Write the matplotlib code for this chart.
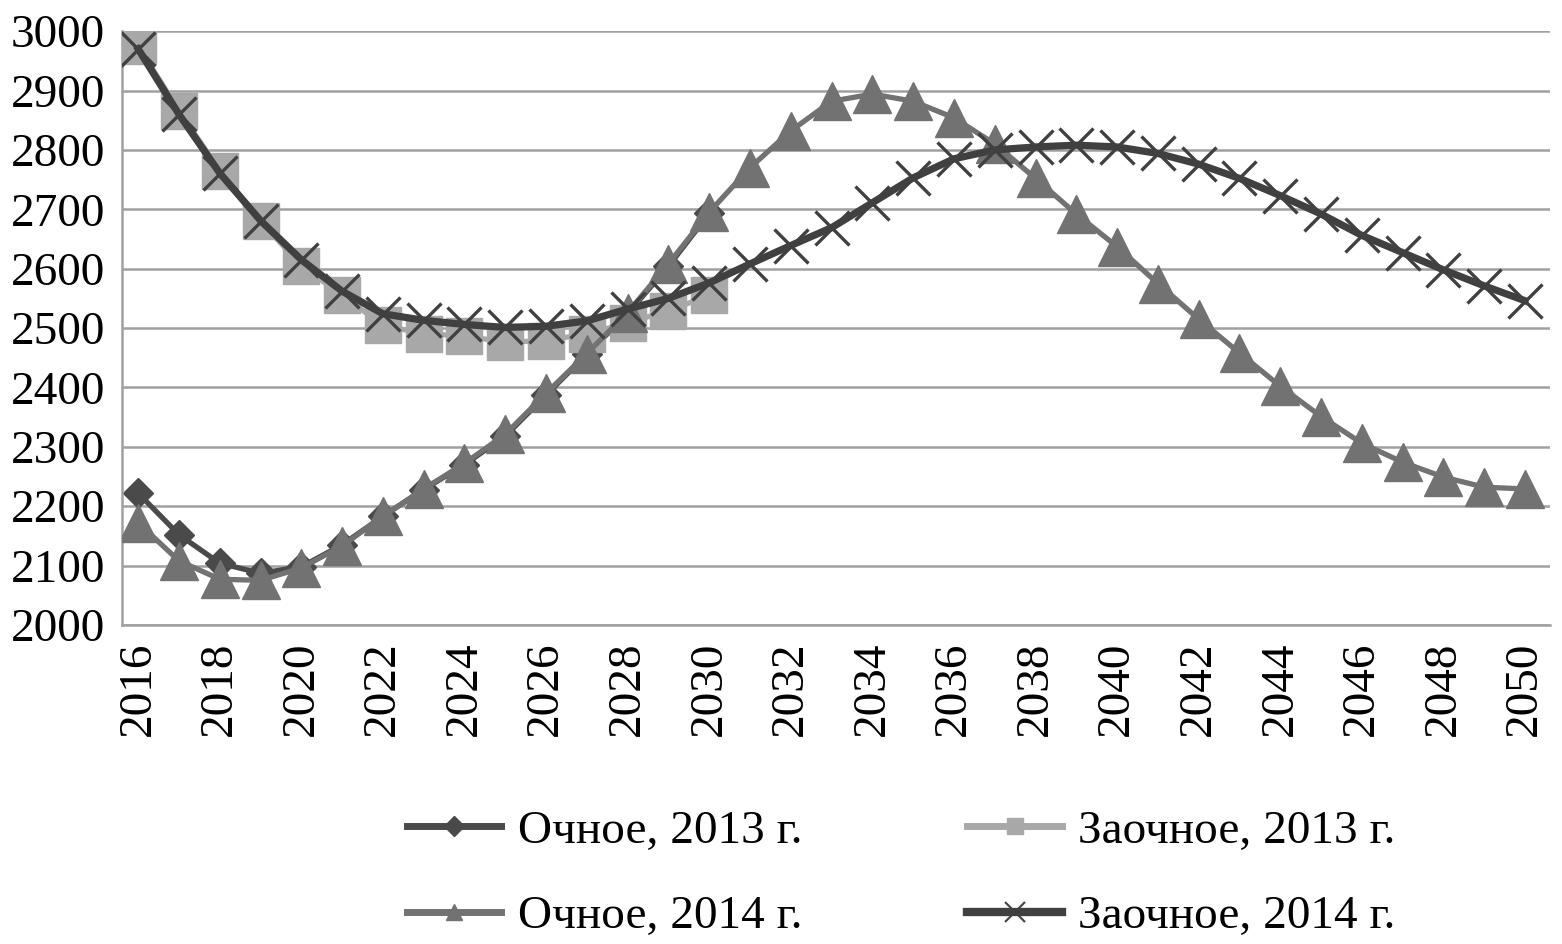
import matplotlib
matplotlib.use("Agg")
import matplotlib.pyplot as plt
from matplotlib.lines import Line2D

plt.rcParams['font.family'] = ['Liberation Serif', 'DejaVu Serif']

years = list(range(2016, 2051))
years_2013 = list(range(2016, 2031))

ochnoe_2013 = [2222, 2152, 2104, 2087, 2098, 2135, 2183, 2228, 2270,
               2318, 2387, 2456, 2524, 2604, 2693]
zaochnoe_2013 = [2975, 2866, 2765, 2680, 2605, 2555, 2505, 2490, 2487,
                 2476, 2479, 2490, 2509, 2529, 2555]
ochnoe_2014 = [2172, 2108, 2077, 2075, 2096, 2133, 2183, 2229, 2272,
               2321, 2390, 2457, 2526, 2608, 2695, 2770, 2832, 2882,
               2894, 2882, 2854, 2810, 2752, 2692, 2637, 2575, 2515,
               2458, 2402, 2351, 2306, 2274, 2249, 2232, 2229]
zaochnoe_2014 = [2970, 2860, 2761, 2681, 2615, 2562, 2524, 2513, 2506,
                 2501, 2503, 2512, 2532, 2550, 2576, 2608, 2639, 2669,
                 2711, 2753, 2785, 2800, 2805, 2808, 2805, 2794, 2776,
                 2752, 2723, 2692, 2656, 2627, 2598, 2571, 2546]

labels = ["Очное, 2013 г.", "Заочное, 2013 г.", "Очное, 2014 г.", "Заочное, 2014 г."]
c_o13 = "#4a4a4a"
c_z13 = "#a8a8a8"
c_o14 = "#727272"
c_z14 = "#404040"

fig = plt.figure(figsize=(15.62, 9.44), dpi=100)
ax = fig.add_axes([0.078, 0.338, 0.914, 0.629])

ax.plot(years_2013, ochnoe_2013, color=c_o13, lw=3.8, marker="D", ms=15,
        zorder=2)
ax.plot(years_2013, zaochnoe_2013, color=c_z13, lw=3.8, marker="s", ms=26,
        zorder=3)
ax.plot(years, ochnoe_2014, color=c_o14, lw=3.8, marker="^", ms=27,
        zorder=4)
ax.plot(years, zaochnoe_2014, color=c_z14, lw=5.2, marker="x", ms=24,
        mew=2.4, zorder=5)

ax.set_xlim(2015.6, 2050.6)
ax.set_ylim(2000, 3000)
ax.set_yticks(range(2000, 3001, 100))
ax.set_xticks(range(2016, 2051, 2))
ax.set_xticklabels([str(y) for y in range(2016, 2051, 2)], rotation=90)
ax.tick_params(axis="both", length=0, labelsize=34, colors="black")
ax.tick_params(axis="x", pad=12)
ax.tick_params(axis="y", pad=12)

ax.grid(axis="y", color="#a0a0a0", lw=1.8)
ax.set_axisbelow(True)
for s in ["top", "right"]:
    ax.spines[s].set_visible(False)
for s in ["left", "bottom"]:
    ax.spines[s].set_color("#a0a0a0")
    ax.spines[s].set_linewidth(1.8)

handles = [
    Line2D([], [], color=c_o13, lw=5, marker="D", ms=10),
    Line2D([], [], color=c_o14, lw=5, marker="^", ms=12),
    Line2D([], [], color=c_z13, lw=5, marker="s", ms=12),
    Line2D([], [], color=c_z14, lw=6, marker="x", ms=14, mew=1.5),
]
leg_labels = [labels[0], labels[2], labels[1], labels[3]]
fig.legend(handles, leg_labels, ncol=2, loc="center",
           bbox_to_anchor=(0.577, 0.074), frameon=False, fontsize=34,
           handlelength=2.0, handletextpad=0.35, columnspacing=3.5,
           labelspacing=0.9)

fig.savefig("out.png", dpi=100)
